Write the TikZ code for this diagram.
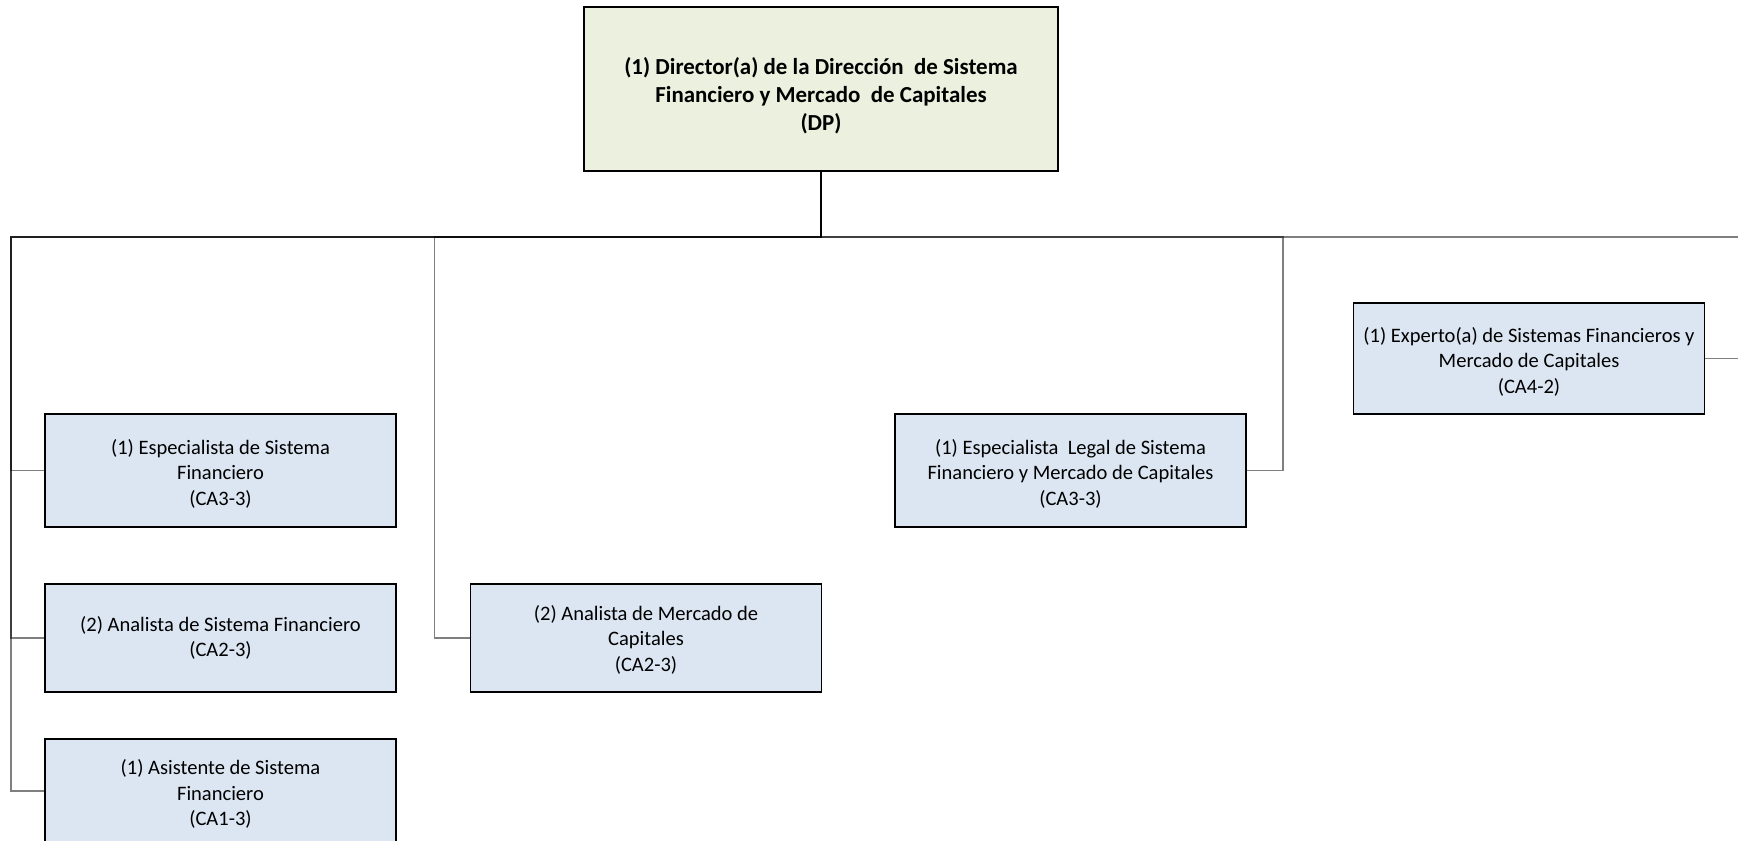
\documentclass[tikz,border=0pt]{standalone}
\usepackage{fontspec}
\setmainfont{Carlito}
\definecolor{dpfill}{HTML}{EBF1DE}
\definecolor{boxfill}{HTML}{DCE6F2}
\tikzset{
  dpbox/.style={draw=black, line width=1.2pt, fill=dpfill, minimum width=355.5pt, minimum height=123pt,
    inner sep=0pt, align=center, font=\fontsize{17.2}{21}\selectfont\bfseries},
  posbox/.style={draw=black, line width=1.2pt, fill=boxfill, minimum width=263.25pt,
    inner sep=0pt, align=center, font=\fontsize{15.4}{19}\selectfont},
  conn/.style={draw=black, draw opacity=0.5, line width=1.1pt}
}
\begin{document}
\begin{tikzpicture}[x=0.75pt,y=-0.75pt]
\useasboundingbox (0,0) rectangle (1738,840);
\clip (0,0) rectangle (1738,840);

\node[dpbox] (dp) at (821,89) {\rule{0pt}{23pt}(1) Director(a) de la Dirección\ \ de Sistema\\Financiero y Mercado\ \ de Capitales\\(DP)};

\node[posbox, minimum height=84.75pt] (b1) at (220.5,470.5) {\rule{0pt}{16pt}(1) Especialista de Sistema\\Financiero\\(CA3-3)};
\node[posbox, minimum height=81pt] (b2) at (220.5,638) {(2) Analista de Sistema Financiero\\(CA2-3)};
\node[posbox, minimum height=78pt] (b3) at (220.5,791) {\rule{0pt}{16pt}(1) Asistente de Sistema\\Financiero\\(CA1-3)};
\node[posbox, minimum height=81pt] (bm) at (646,638) {\rule{0pt}{14pt}(2) Analista de Mercado de\\Capitales\\(CA2-3)};
\node[posbox, minimum height=84.75pt] (bl) at (1070.5,470.5) {\rule{0pt}{16pt}(1) Especialista\ \ Legal de Sistema\\Financiero y Mercado de Capitales\\(CA3-3)};
\node[posbox, minimum height=83.25pt] (be) at (1529,358.5) {\rule{0pt}{16pt}(1) Experto(a) de Sistemas Financieros y\\Mercado de Capitales\\(CA4-2)};

\coordinate (bus) at (821,237);
\coordinate (farright) at (1760,358.5);

\draw[conn] (dp.south) -- (bus) -| ([shift={(-33,0)}]b1.west) -- (b1.west);
\draw[conn] (dp.south) -- (bus) -| ([shift={(-33,0)}]b2.west) -- (b2.west);
\draw[conn] (dp.south) -- (bus) -| ([shift={(-33,0)}]b3.west) -- (b3.west);
\draw[conn] (dp.south) -- (bus) -| ([shift={(-35,0)}]bm.west) -- (bm.west);
\draw[conn] (dp.south) -- (bus) -| ([shift={(36,0)}]bl.east) -- (bl.east);
\draw[conn] (dp.south) -- (bus) -| (farright) -- (be.east);
\end{tikzpicture}
\end{document}
